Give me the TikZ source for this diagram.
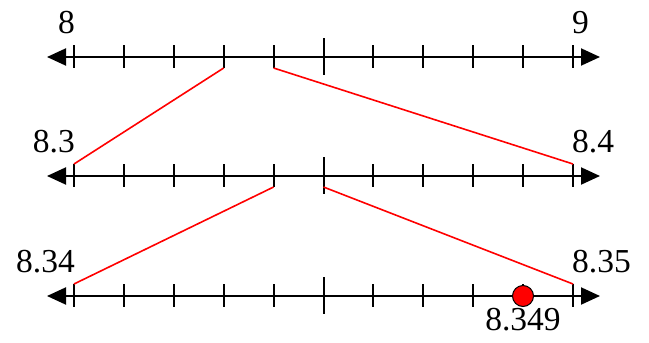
\documentclass[tikz,border=0pt]{standalone}
\usepackage{fontspec}
\setmainfont{Liberation Serif}
\usetikzlibrary{arrows.meta}

\begin{document}
\begin{tikzpicture}[
    x=1pt, y=-1pt,
    axis/.style={line width=2pt, {Triangle[length=19pt,width=17pt]}-{Triangle[length=19pt,width=17pt]}},
    tick/.style={line width=2pt},
    zoomline/.style={draw=red, line width=1.6pt},
    numlabel/.style={font=\fontsize{33.5}{38}\selectfont, inner sep=0pt},
    dot/.style={circle, fill=red, draw=black, line width=1pt, minimum size=21pt, inner sep=0pt}
]
\useasboundingbox (0,0) rectangle (649,343);

% Number lines with ticks and end labels
\foreach \row/\y/\lo/\hi in {top/57/8/9, mid/176/8.3/8.4, bot/296/8.34/8.35} {
  \draw[axis] (47,\y) -- (600,\y);
  \foreach \i in {0,...,10} {
    \pgfmathsetmacro{\xx}{74+49.9*\i}
    \pgfmathsetmacro{\h}{ifthenelse(\i==5,19,12)}
    \draw[tick] (\xx,\y-\h) -- (\xx,\y+\h-1);
    \coordinate (\row-\i-up) at (\xx,\y-12);
    \coordinate (\row-\i-dn) at (\xx,\y+11);
  }
  \node[numlabel, anchor=base east] (\row-lo) at (75,\y-24) {\lo};
  \node[numlabel, anchor=base west] (\row-hi) at (572,\y-24) {\hi};
}

% Zoom lines
\draw[zoomline] (top-3-dn) -- (mid-0-up);
\draw[zoomline] (top-4-dn) -- (mid-10-up);
\draw[zoomline] (mid-4-dn) -- (bot-0-up);
\draw[zoomline] (mid-5-dn) -- (bot-10-up);

% Point
\node[dot] (pt) at (523,296) {};
\node[numlabel, anchor=base] (pt-lab) at (523,330) {8.349};

\end{tikzpicture}
\end{document}
